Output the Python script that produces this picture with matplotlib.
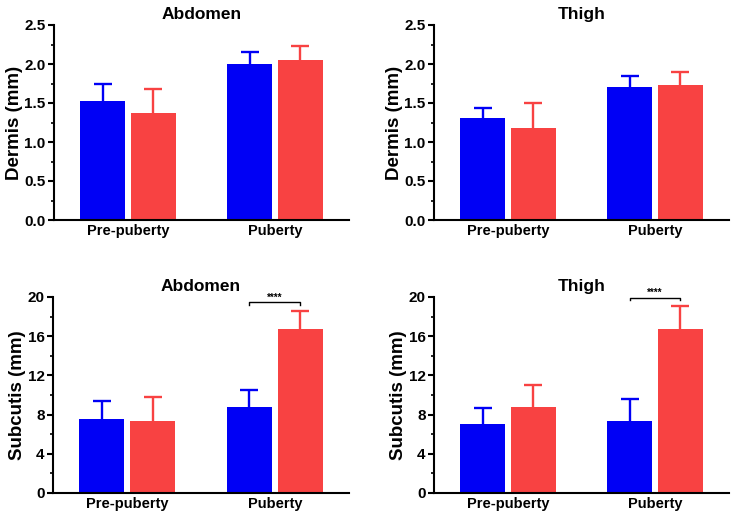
import matplotlib
matplotlib.use("Agg")
import matplotlib.pyplot as plt
import numpy as np
from matplotlib.ticker import MultipleLocator

plt.rcParams['font.family'] = ['Liberation Sans', 'DejaVu Sans']
plt.rcParams['font.weight'] = 'bold'

groups = ['Pre-puberty', 'Puberty']
blue = '#0000F5'
red = '#F84242'

# mean and upper error (SD) per panel: [pre, puberty]
dermis_abd_blue = [1.52, 2.00]
dermis_abd_blue_err = [0.23, 0.16]
dermis_abd_red = [1.37, 2.05]
dermis_abd_red_err = [0.31, 0.18]

dermis_thigh_blue = [1.31, 1.70]
dermis_thigh_blue_err = [0.13, 0.15]
dermis_thigh_red = [1.175, 1.735]
dermis_thigh_red_err = [0.33, 0.165]

subc_abd_blue = [7.55, 8.78]
subc_abd_blue_err = [1.80, 1.70]
subc_abd_red = [7.31, 16.70]
subc_abd_red_err = [2.49, 1.90]

subc_thigh_blue = [7.04, 7.38]
subc_thigh_blue_err = [1.60, 2.18]
subc_thigh_red = [8.78, 16.70]
subc_thigh_red_err = [2.24, 2.38]

W, H = 734, 517
fig = plt.figure(figsize=(W / 100, H / 100), dpi=100)

def make_ax(l, r, t, b):
    return fig.add_axes([l / W, 1 - b / H, (r - l) / W, (b - t) / H])

panels = [
    (make_ax(54, 349, 25, 220), 'Abdomen', 'Dermis (mm)', dermis_abd_blue, dermis_abd_blue_err,
     dermis_abd_red, dermis_abd_red_err, 2.5, 0.5, None),
    (make_ax(434, 729, 25, 220), 'Thigh', 'Dermis (mm)', dermis_thigh_blue, dermis_thigh_blue_err,
     dermis_thigh_red, dermis_thigh_red_err, 2.5, 0.5, None),
    (make_ax(53, 349, 297, 493), 'Abdomen', 'Subcutis (mm)', subc_abd_blue, subc_abd_blue_err,
     subc_abd_red, subc_abd_red_err, 20, 4, 19.45),
    (make_ax(434, 729, 297, 493), 'Thigh', 'Subcutis (mm)', subc_thigh_blue, subc_thigh_blue_err,
     subc_thigh_red, subc_thigh_red_err, 20, 4, 19.9),
]

x = np.arange(len(groups))
bw = 0.306
off = 0.172
cap = 0.061


def upper_err(ax, xs, ys, es, color):
    tops = np.array(ys) + np.array(es)
    ax.vlines(xs, ys, tops, color=color, lw=1.7, zorder=1)
    ax.hlines(tops, xs - cap, xs + cap, color=color, lw=1.7, zorder=1)


for ax, title, ylab, b, be, r, re, ymax, step, sig in panels:
    ax.bar(x - off, b, bw, color=blue, zorder=2)
    ax.bar(x + off, r, bw, color=red, zorder=2)
    upper_err(ax, x - off, b, be, blue)
    upper_err(ax, x + off, r, re, red)
    ax.set_xlim(-0.503, 1.503)
    ax.set_ylim(0, ymax)
    ax.yaxis.set_major_locator(MultipleLocator(step))
    ax.yaxis.set_minor_locator(MultipleLocator(step / 2))
    if step < 1:
        ax.set_yticklabels([f'{v:.1f}' for v in ax.get_yticks()])
    ax.set_xticks(x)
    ax.set_xticklabels(groups, fontsize=10.5, fontweight='bold')
    ax.tick_params(axis='x', length=0, pad=3)
    ax.tick_params(axis='y', which='major', length=4, width=1.5, labelsize=11, pad=2)
    ax.tick_params(axis='y', which='minor', length=2.5, width=1.2)
    for s in ['top', 'right']:
        ax.spines[s].set_visible(False)
    for s in ['left', 'bottom']:
        ax.spines[s].set_linewidth(1.5)
    ax.set_title(title, fontsize=12.5, fontweight='bold', pad=4)
    ax.set_ylabel(ylab, fontsize=13.5, fontweight='bold', labelpad=1)
    if sig is not None:
        x0, x1 = 1 - off, 1 + off
        d = ymax * 0.012
        ax.plot([x0, x0, x1, x1], [sig - d, sig, sig, sig - d], color='black', lw=1, clip_on=False)
        ax.text(1, sig, '****', ha='center', va='bottom', fontsize=7, fontweight='bold')

fig.savefig('out.png', dpi=100)
